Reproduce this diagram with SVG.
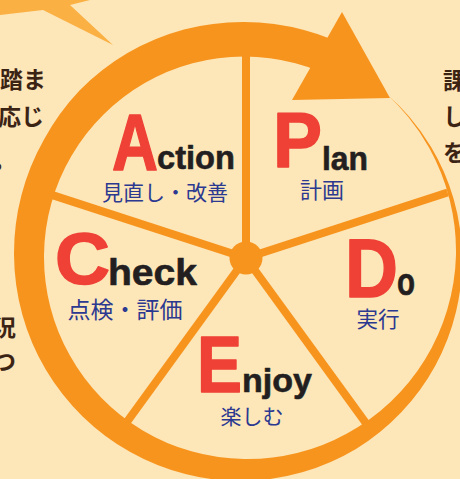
<svg xmlns="http://www.w3.org/2000/svg" width="460" height="479" viewBox="0 0 460 479">
<style>
.big{font-family:"Liberation Sans",Arial,sans-serif;font-weight:bold;fill:#EF4136;stroke:#EF4136;stroke-width:1.5;stroke-linejoin:round}
.word{font-family:"Liberation Sans",Arial,sans-serif;font-weight:bold;fill:#231F20;stroke:#231F20;stroke-width:0.6;stroke-linejoin:round}
.jp{font-family:"Noto Sans CJK JP",sans-serif;fill:#2B3990;text-anchor:middle}
.side{font-family:"Noto Sans CJK JP",sans-serif;font-weight:bold;fill:#3C2415;font-size:23px}
.spoke{stroke:#F7941E;stroke-width:8}
</style>
<rect width="460" height="479" fill="#FDE6B8"/>
<polygon id="bubble" points="0,0 0,15 43,10 113,45 70,5 90,0" fill="#FAB042"/>
<g id="side-text">
<text class="side" x="0" y="88">踏ま</text>
<text class="side" x="-2" y="125">応じ</text>
<text class="side" x="-7" y="168">。</text>
<text class="side" x="-7" y="336">況</text>
<text class="side" x="-7" y="370">つ</text>
<text class="side" x="443" y="89">課</text>
<text class="side" x="443" y="125">し</text>
<text class="side" x="443" y="161">を</text>
</g>
<g id="spokes">
<line class="spoke" x1="246" y1="258" x2="246" y2="52"/>
<line class="spoke" x1="246" y1="258" x2="447.6" y2="192.5"/>
<line class="spoke" x1="246" y1="258" x2="369.4" y2="427.9"/>
<line class="spoke" x1="246" y1="258" x2="122.6" y2="427.9"/>
<line class="spoke" x1="246" y1="258" x2="46.3" y2="193.1"/>
</g>
<circle id="hub" cx="246" cy="258" r="16.5" fill="#F7941E"/>
<g id="cycle-arrow" fill="#F7941E">
<path d="M387.9 95.2 A215.5 215.5 0 0 1 409.1 116.5 A216 216 0 0 1 431.1 147 A217 217 0 0 1 453.6 198.8 A218 218 0 0 1 462 255 A219 219 0 0 1 456 311.8 A220 220 0 0 1 435.4 365.5 A222 222 0 0 1 401.3 412.3 A223 223 0 0 1 356 449 A225 225 0 0 1 302.2 472.3 A226 226 0 0 1 244 481 A226.5 226.5 0 0 1 185.3 474 A227 227 0 0 1 130.25 452 A228 228 0 0 1 82.6 416.4 A228.5 228.5 0 0 1 45.7 369.5 A229 229 0 0 1 22.3 314.4 A230 230 0 0 1 14 255 A230 230 0 0 1 21.4 195.3 A231 231 0 0 1 44 139.5 A231.5 231.5 0 0 1 79.5 90.5 A232.5 232.5 0 0 1 127.5 53 A233 233 0 0 1 184 29.5 A233 233 0 0 1 244 22 A233 233 0 0 1 304 30 A233 233 0 0 1 331 39 L318.4 71 A198.5 198.5 0 0 0 295.4 63.3 A198.5 198.5 0 0 0 244 56.5 A198.5 198.5 0 0 0 192.6 63.3 A198.5 198.5 0 0 0 144.75 83.1 A198.5 198.5 0 0 0 103.6 114.6 A199 199 0 0 0 71.7 155.5 A199.5 199.5 0 0 0 51.3 203.4 A200 200 0 0 0 44 255 A200.5 200.5 0 0 0 50.3 306.9 A201 201 0 0 0 69.9 355.5 A201.5 201.5 0 0 0 101.3 397.7 A202 202 0 0 0 142.75 430.4 A203 203 0 0 0 191.4 451.3 A204 204 0 0 0 244 459 A205 205 0 0 0 297.1 453 A206 206 0 0 0 347 433.4 A207 207 0 0 0 390.7 401.7 A208.5 208.5 0 0 0 425 359.5 A210 210 0 0 0 447.3 309.5 A211 211 0 0 0 456 255 A212.5 212.5 0 0 0 449.7 199.9 A213.5 213.5 0 0 0 429.3 148 A214 214 0 0 0 408.3 117.1 A214.5 214.5 0 0 0 387.9 95.2 Z"/>
<polygon points="342,12 390,98 292,100"/>
</g>
<g id="action">
<text class="big" x="112" y="170" font-size="80" textLength="46" lengthAdjust="spacingAndGlyphs">A</text>
<text class="word" x="157" y="169" font-size="34" textLength="78" lengthAdjust="spacingAndGlyphs">ction</text>
<text class="jp" x="165" y="200" font-size="21">見直し・改善</text>
</g>
<g id="plan">
<text class="big" x="273" y="167" font-size="77" textLength="49" lengthAdjust="spacingAndGlyphs">P</text>
<text class="word" x="322" y="170" font-size="33" textLength="46" lengthAdjust="spacingAndGlyphs">lan</text>
<text class="jp" x="322" y="198" font-size="22">計画</text>
</g>
<g id="do">
<text class="big" x="345" y="297" font-size="83" textLength="53" lengthAdjust="spacingAndGlyphs">D</text>
<text class="word" x="397" y="295" font-size="38" textLength="18" lengthAdjust="spacingAndGlyphs">o</text>
<text class="jp" x="378" y="327" font-size="21.5">実行</text>
</g>
<g id="check">
<text class="big" x="55" y="284" font-size="73" textLength="55" lengthAdjust="spacingAndGlyphs">C</text>
<text class="word" x="108" y="285" font-size="37" textLength="89" lengthAdjust="spacingAndGlyphs">heck</text>
<text class="jp" x="125" y="318" font-size="23">点検・評価</text>
</g>
<g id="enjoy">
<text class="big" x="197" y="392" font-size="80" textLength="45" lengthAdjust="spacingAndGlyphs">E</text>
<text class="word" x="242" y="392" font-size="34" textLength="70" lengthAdjust="spacingAndGlyphs">njoy</text>
<text class="jp" x="252" y="424" font-size="21">楽しむ</text>
</g>
</svg>
